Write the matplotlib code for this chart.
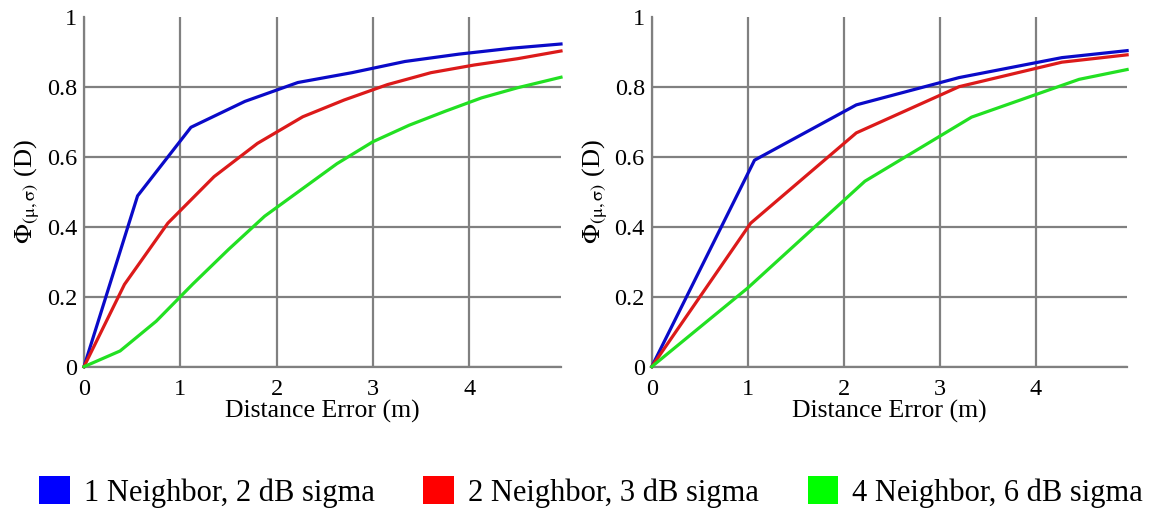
import numpy as np
import matplotlib
matplotlib.use('Agg')
import matplotlib.pyplot as plt
from matplotlib.patches import Patch

plt.rcParams['font.family'] = 'serif'
plt.rcParams['font.serif'] = ['Liberation Serif', 'DejaVu Serif']
plt.rcParams['mathtext.fontset'] = 'stix'

# data
labels = ['1 Neighbor, 2 dB sigma', '2 Neighbor, 3 dB sigma', '4 Neighbor, 6 dB sigma']
line_colors = ['#0a0ac8', '#dc1a1a', '#22e022']
patch_colors = ['#0000ff', '#ff0000', '#00ff00']

# left panel
l_blue_x = [0, 0.556, 1.11, 1.67, 2.22, 2.78, 3.33, 3.89, 4.44, 4.95]
l_blue_y = [0, 0.488, 0.684, 0.758, 0.812, 0.840, 0.872, 0.893, 0.910, 0.922]
l_red_x = [0, 0.42, 0.87, 1.35, 1.80, 2.27, 2.7, 3.15, 3.6, 4.05, 4.5, 4.95]
l_red_y = [0, 0.235, 0.41, 0.543, 0.638, 0.714, 0.762, 0.806, 0.840, 0.862, 0.880, 0.902]
l_green_x = [0, 0.375, 0.75, 1.125, 1.5, 1.875, 2.25, 2.625, 3.0, 3.375, 3.75, 4.125, 4.5, 4.95]
l_green_y = [0, 0.045, 0.13, 0.235, 0.335, 0.43, 0.505, 0.58, 0.643, 0.69, 0.73, 0.768, 0.797, 0.827]

# right panel
r_blue_x = [0, 1.07, 2.13, 3.2, 4.27, 4.95]
r_blue_y = [0, 0.59, 0.748, 0.826, 0.883, 0.903]
r_red_x = [0, 1.03, 2.13, 3.2, 4.27, 4.95]
r_red_y = [0, 0.41, 0.668, 0.80, 0.87, 0.891]
r_green_x = [0, 1.0, 2.22, 3.33, 4.45, 4.95]
r_green_y = [0, 0.225, 0.53, 0.713, 0.821, 0.849]

x_ticks = [0, 1, 2, 3, 4]
y_ticks = [0, 0.2, 0.4, 0.6, 0.8, 1]
y_ticklabels = ['0', '0.2', '0.4', '0.6', '0.8', '1']

panels = [
    [(l_blue_x, l_blue_y), (l_red_x, l_red_y), (l_green_x, l_green_y)],
    [(r_blue_x, r_blue_y), (r_red_x, r_red_y), (r_green_x, r_green_y)],
]

fig = plt.figure(figsize=(11.68, 5.12), dpi=100)
ax1 = fig.add_axes([0.0719, 0.2838, 0.4084, 0.6836])
ax2 = fig.add_axes([0.558, 0.2838, 0.407, 0.6836])

grid_col = '#808080'
for ax, series in zip([ax1, ax2], panels):
    for (xs, ys), c in zip(series, line_colors):
        ax.plot(xs, ys, color=c, lw=2.3, zorder=3, clip_on=False)
    ax.set_xlim(0, 4.95)
    ax.set_ylim(0, 1)
    ax.set_xticks(x_ticks)
    ax.set_yticks(y_ticks)
    ax.set_yticklabels(y_ticklabels)
    ax.tick_params(axis='both', length=0, labelsize=17.5)
    ax.tick_params(axis='x', pad=9)
    ax.tick_params(axis='y', pad=5)
    ax.grid(True, color=grid_col, lw=1.6, zorder=1)
    # no line along the top
    ax.get_ygridlines()[-1].set_visible(False)
    for s in ['top', 'right']:
        ax.spines[s].set_visible(False)
    for s in ['left', 'bottom']:
        ax.spines[s].set_color(grid_col)
        ax.spines[s].set_linewidth(1.6)
    ax.set_xlabel('Distance Error (m)', fontsize=18.5, labelpad=0)
    ax.set_ylabel(r'$\Phi_{\mathrm{(μ,σ)}}$ (D)', fontsize=19, labelpad=3)

handles = [Patch(facecolor=c, edgecolor='none') for c in patch_colors]
fig.legend(handles, labels, loc='center', bbox_to_anchor=(0.5060, 0.039), ncol=3,
           frameon=False, fontsize=22, handlelength=1.0, handleheight=1.0,
           handletextpad=0.45, columnspacing=1.6, borderaxespad=0)

fig.savefig('out.png', dpi=100, facecolor='white')
